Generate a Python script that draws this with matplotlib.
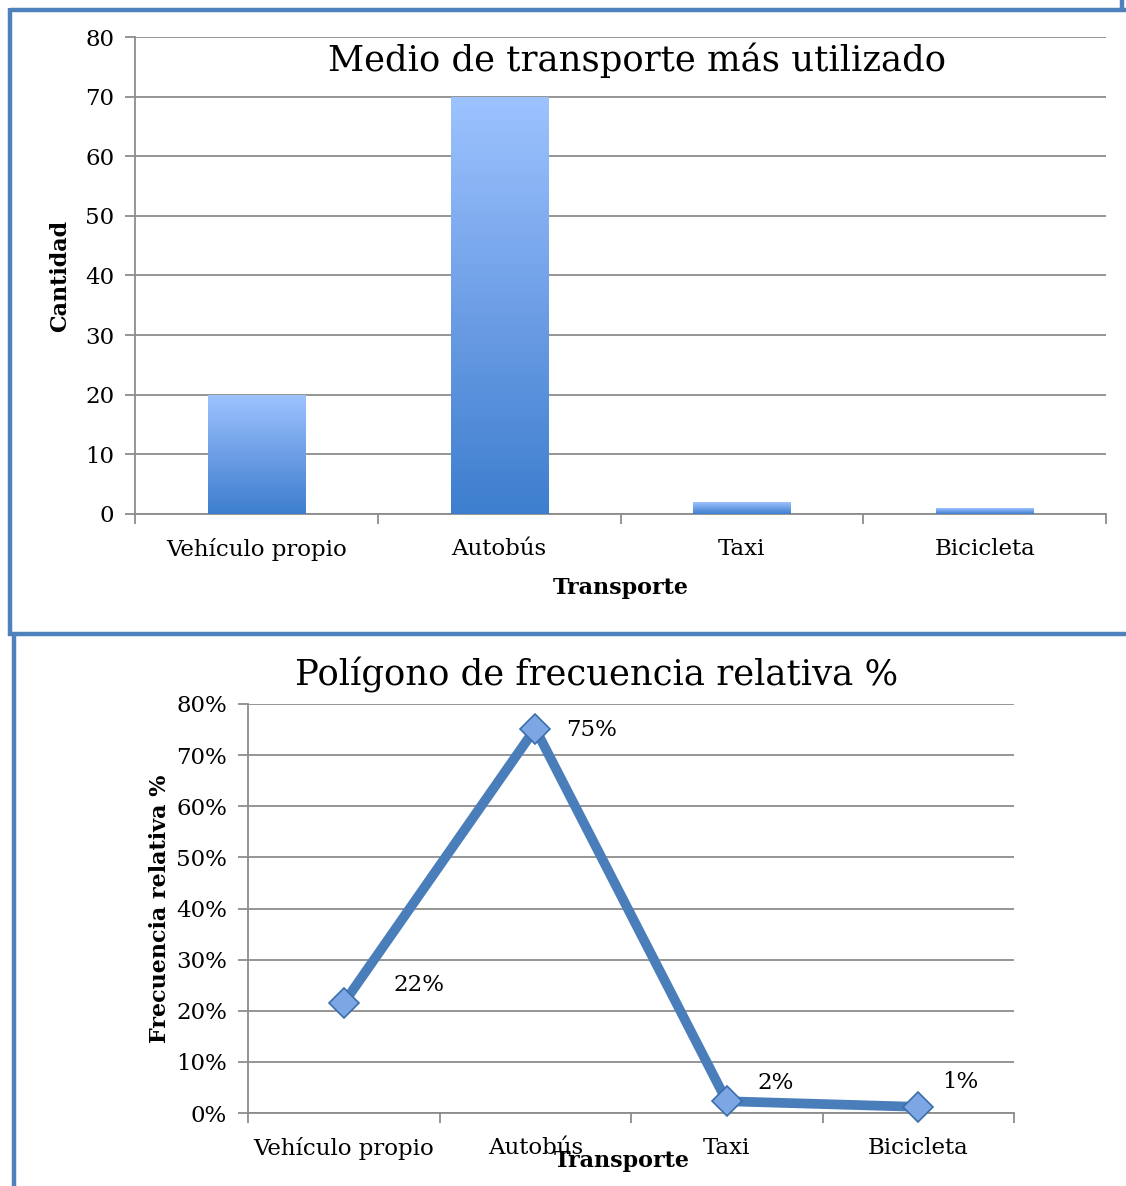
import matplotlib
matplotlib.use("Agg")
import matplotlib.pyplot as plt
from matplotlib.lines import Line2D
from matplotlib.colors import LinearSegmentedColormap
import numpy as np

# datos
transportes = ["Vehículo propio", "Autobús", "Taxi", "Bicicleta"]
cantidad = [20, 70, 2, 1]
frec_rel = [0.215, 0.752, 0.023, 0.012]
frec_labels = ["22%", "75%", "2%", "1%"]

W, H = 1126, 1186
plt.rcParams['font.family'] = ['DejaVu Serif']

fig = plt.figure(figsize=(W / 100, H / 100), dpi=100)

def px_axes(left, top, right, bottom):
    return fig.add_axes([left / W, 1 - bottom / H, (right - left) / W, (bottom - top) / H])

def px_line(x0, y0, x1, y1, color="#4F81BD", lw=3.2):
    fig.add_artist(Line2D([x0 / W, x1 / W], [1 - y0 / H, 1 - y1 / H],
                          transform=fig.transFigure, color=color, lw=lw,
                          solid_capstyle="butt"))

grid_c = "#8C8C8C"

def style_axes(ax):
    for s in ["top", "right"]:
        ax.spines[s].set_visible(False)
    for s in ["left", "bottom"]:
        ax.spines[s].set_color(grid_c)
        ax.spines[s].set_linewidth(1.3)
    ax.yaxis.grid(True, color=grid_c, lw=1.3)
    ax.set_axisbelow(True)
    x = np.arange(len(transportes))
    ax.set_xlim(-0.5, len(transportes) - 0.5)
    ax.set_xticks(x)
    ax.set_xticklabels(transportes, fontsize=16.5)
    ax.set_xticks(np.arange(len(transportes) + 1) - 0.5, minor=True)
    ax.tick_params(axis="x", which="major", length=0, pad=17)
    ax.tick_params(axis="x", which="minor", length=7, width=1.3, color=grid_c)
    ax.tick_params(axis="y", length=7, width=1.3, color=grid_c, labelsize=16.5, pad=8)

# ---------- gráfico de barras ----------
ax1 = px_axes(135, 37, 1106, 514)
style_axes(ax1)
ax1.set_ylim(0, 80)
ax1.set_yticks(range(0, 81, 10))
bars = ax1.bar(np.arange(len(transportes)), cantidad, width=0.4,
               color="none", edgecolor="none")
cmap = LinearSegmentedColormap.from_list("azul", ["#3D7ECE", "#6E9FE6", "#9DC3FF"])
grad = np.linspace(0, 1, 256).reshape(-1, 1)
for b in bars:
    x0, y0 = b.get_x(), b.get_y()
    im = ax1.imshow(grad, cmap=cmap, origin="lower", aspect="auto",
                    extent=[x0, x0 + b.get_width(), y0, y0 + b.get_height()],
                    zorder=3)
    im.set_clip_path(b)
ax1.set_xlim(-0.5, len(transportes) - 0.5)
ax1.set_ylim(0, 80)
ax1.text(0.517, 0.952, "Medio de transporte más utilizado", transform=ax1.transAxes,
         ha="center", va="center", fontsize=25.5)
ax1.set_ylabel("Cantidad", fontsize=16, fontweight="bold", labelpad=10)
ax1.set_xlabel("Transporte", fontsize=16, fontweight="bold", labelpad=12)

# ---------- polígono de frecuencia ----------
ax2 = px_axes(248, 704, 1014, 1113)
style_axes(ax2)
ax2.set_ylim(0, 0.8)
ax2.set_yticks(np.arange(0, 0.81, 0.1))
ax2.set_yticklabels([f"{int(round(v * 100))}%" for v in np.arange(0, 0.81, 0.1)])
ax2.plot(np.arange(len(transportes)), frec_rel, color="#4A7EBB", lw=7,
         marker="D", markersize=15, markerfacecolor="#7DA7E4",
         markeredgecolor="#3C6EAA", markeredgewidth=1.2, zorder=4, clip_on=False)
label_offsets = [(36, 13), (22, -1), (22, 13), (17, 18)]
for i, (v, lab) in enumerate(zip(frec_rel, frec_labels)):
    ax2.annotate(lab, (i, v), xytext=label_offsets[i], textcoords="offset points",
                 fontsize=16.5, va="center", ha="left")
ax2.text(0.455, 1.07, "Polígono de frecuencia relativa %", transform=ax2.transAxes,
         ha="center", va="center", fontsize=25.5)
ax2.set_ylabel("Frecuencia relativa %", fontsize=16, fontweight="bold", labelpad=4)
ax2.set_xlabel("Transporte", fontsize=16, fontweight="bold", labelpad=-8)
ax2.xaxis.set_label_coords(0.488, -0.09)

# ---------- marcos ----------
px_line(10, 10, 1126, 10)
px_line(1122, 0, 1122, 10)
px_line(10, 8, 10, 636)
px_line(8, 634, 1126, 634)
px_line(14, 636, 14, 1186)

fig.savefig("out.png", dpi=100)
